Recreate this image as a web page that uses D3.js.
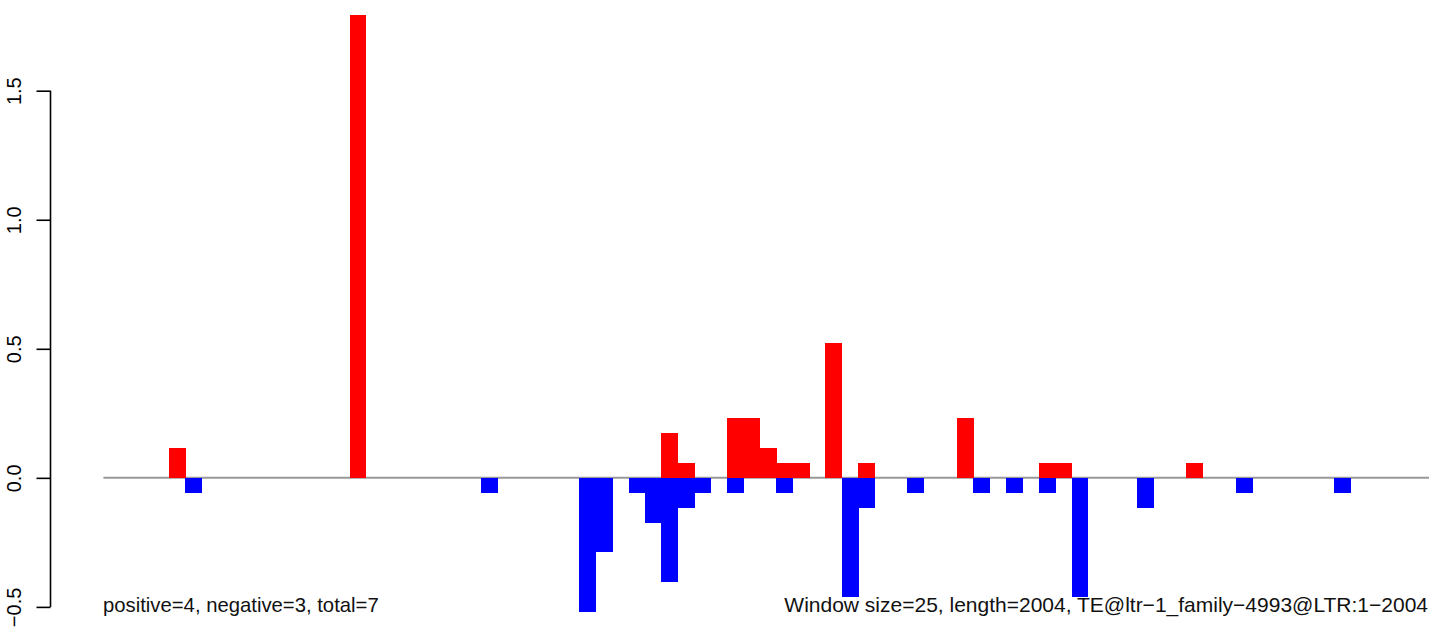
<!DOCTYPE html>
<html>
<head>
<meta charset="utf-8">
<script src="https://cdn.jsdelivr.net/npm/d3@7"></script>
<style>
  html, body { margin: 0; padding: 0; background: #fff; }
  svg { display: block; }
  text { font-family: "Liberation Sans", Arial, Helvetica, sans-serif; }
</style>
</head>
<body>
<script>
// Window bins (window size 25 over length 2004 -> 81 windows)
const nWindows = 81;

// Positive scores: window index and value
const posBins   = [4, 15, 34, 35, 38, 39, 40, 41, 42, 44, 46, 52, 57, 58, 66];
const posValues = [0.116, 1.792, 0.174, 0.058, 0.231, 0.231, 0.116, 0.058, 0.058, 0.521, 0.058, 0.231, 0.058, 0.058, 0.058];

// Negative scores: window index and value
const negBins   = [5, 23, 29, 30, 32, 33, 34, 35, 36, 38, 41, 45, 46, 49, 53, 55, 57, 59, 63, 69, 75];
const negValues = [-0.058, -0.058, -0.521, -0.289, -0.058, -0.174, -0.405, -0.116, -0.058, -0.058, -0.058, -0.463, -0.116, -0.058, -0.058, -0.058, -0.058, -0.463, -0.116, -0.058, -0.058];

const yTicks = [-0.5, 0, 0.5, 1.0, 1.5];
const yTickLabels = ["\u22120.5", "0.0", "0.5", "1.0", "1.5"];

const leftNote  = "positive=4, negative=3, total=7";
const rightNote = "Window size=25, length=2004, TE@ltr\u22121_family\u22124993@LTR:1\u22122004";

const W = 1429, H = 634;
const svg = d3.select("body").append("svg").attr("width", W).attr("height", H);

const x = d3.scaleLinear().domain([0, nWindows]).range([103.4, 1432.6]);
const y = d3.scaleLinear().domain([-0.5, 1.5]).range([606.9, 90.7]);

// zero line
svg.append("line")
  .attr("x1", x(0)).attr("x2", W)
  .attr("y1", y(0)).attr("y2", y(0))
  .attr("stroke", "#999999").attr("stroke-width", 2);

const pos = posBins.map((b, i) => ({ b, v: posValues[i] }));
const neg = negBins.map((b, i) => ({ b, v: negValues[i] }));

svg.append("g").attr("shape-rendering", "crispEdges")
  .selectAll("rect").data(pos).join("rect")
  .attr("x", d => x(d.b))
  .attr("width", d => x(d.b + 1) - x(d.b) + 0.5)
  .attr("y", d => y(d.v))
  .attr("height", d => y(0) - y(d.v))
  .attr("fill", "#ff0000");

svg.append("g").attr("shape-rendering", "crispEdges")
  .selectAll("rect").data(neg).join("rect")
  .attr("x", d => x(d.b))
  .attr("width", d => x(d.b + 1) - x(d.b) + 0.5)
  .attr("y", y(0))
  .attr("height", d => y(d.v) - y(0))
  .attr("fill", "#0000ff");

// y axis
const axis = d3.axisLeft(y).tickValues(yTicks).tickSize(14)
  .tickFormat((d, i) => yTickLabels[i]);
const gA = svg.append("g").attr("transform", "translate(50.5,0)").call(axis);
gA.select(".domain").attr("stroke", "#000").attr("stroke-width", 1.6)
  .attr("d", `M0,${y(1.5)}V${y(-0.5)}`);
gA.selectAll(".tick line").attr("stroke", "#000").attr("stroke-width", 1.6);
gA.selectAll(".tick text")
  .attr("fill", "#000")
  .attr("font-size", 20)
  .attr("font-family", "Liberation Sans, Arial, sans-serif")
  .attr("text-anchor", "middle")
  .attr("dy", null)
  .attr("x", null)
  .attr("transform", "translate(-37,0) rotate(-90)")
  .attr("dominant-baseline", "central");

// notes
svg.append("text").attr("x", 103).attr("y", 612)
  .attr("font-size", 20.3).attr("fill", "#111").text(leftNote);
svg.append("text").attr("x", 1428).attr("y", 612)
  .attr("text-anchor", "end")
  .attr("font-size", 21).attr("fill", "#111").text(rightNote);
</script>
</body>
</html>
